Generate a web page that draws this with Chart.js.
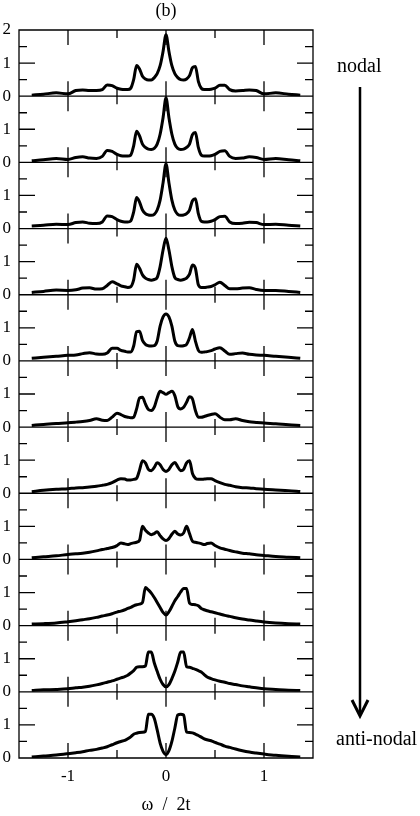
<!DOCTYPE html>
<html>
<head>
<meta charset="utf-8">
<script src="https://cdn.jsdelivr.net/npm/chart.js@4.4.0/dist/chart.umd.min.js"></script>
<style>
  html, body { margin: 0; padding: 0; background: #fff; }
</style>
</head>
<body>
<canvas id="dos" width="420" height="816"></canvas>
<script>
// energy grid (omega / 2t), shared by all panels
const omega = [-1.37,-1.25,-1.12,-1.0,-0.92,-0.85,-0.78,-0.71,-0.65,-0.6,-0.55,-0.5,-0.46,-0.42,-0.39,-0.36,-0.33,-0.3,-0.27,-0.24,-0.21,-0.18,-0.15,-0.12,-0.09,-0.06,-0.03,
  0,
  0.03,0.06,0.09,0.12,0.15,0.18,0.21,0.24,0.27,0.3,0.33,0.36,0.39,0.42,0.46,0.5,0.55,0.6,0.65,0.71,0.78,0.85,0.92,1.0,1.12,1.25,1.37]

// spectral weight per panel, nodal (top) to anti-nodal (bottom)
const panel1 = [0.03,0.06,0.10,0.07,0.17,0.19,0.17,0.17,0.2,0.34,0.32,0.24,0.21,0.2,0.2,0.24,0.5,0.93,0.82,0.6,0.52,0.49,0.49,0.56,0.68,0.92,1.35,
  1.86,
  1.35,0.92,0.68,0.56,0.5,0.49,0.52,0.62,0.86,0.9,0.45,0.24,0.2,0.2,0.21,0.24,0.33,0.33,0.2,0.16,0.17,0.19,0.17,0.07,0.1,0.06,0.03]
const panel2 = [0.05,0.08,0.12,0.09,0.15,0.17,0.13,0.12,0.18,0.36,0.33,0.24,0.2,0.19,0.19,0.22,0.5,0.94,0.8,0.55,0.45,0.4,0.39,0.42,0.55,0.85,1.35,
  1.95,
  1.35,0.85,0.55,0.42,0.39,0.4,0.45,0.55,0.84,0.9,0.45,0.22,0.19,0.19,0.2,0.24,0.33,0.35,0.18,0.12,0.13,0.17,0.15,0.09,0.12,0.08,0.05]
const panel3 = [0.08,0.1,0.13,0.12,0.18,0.2,0.16,0.15,0.2,0.38,0.36,0.27,0.22,0.2,0.2,0.23,0.5,0.94,0.8,0.56,0.45,0.41,0.4,0.43,0.56,0.86,1.38,
  1.96,
  1.38,0.86,0.56,0.43,0.4,0.41,0.45,0.56,0.84,0.9,0.45,0.22,0.2,0.2,0.22,0.27,0.36,0.37,0.2,0.15,0.16,0.19,0.18,0.12,0.13,0.1,0.08]
const panel4 = [0.07,0.1,0.14,0.13,0.15,0.2,0.21,0.17,0.18,0.28,0.39,0.33,0.27,0.24,0.22,0.24,0.45,0.92,0.8,0.6,0.5,0.46,0.44,0.46,0.52,0.85,1.35,
  1.71,
  1.35,0.85,0.52,0.46,0.44,0.46,0.5,0.62,0.9,0.8,0.3,0.22,0.22,0.23,0.25,0.3,0.38,0.28,0.18,0.18,0.2,0.21,0.16,0.13,0.13,0.1,0.07]
const panel5 = [0.08,0.11,0.14,0.17,0.18,0.22,0.25,0.21,0.2,0.24,0.38,0.38,0.32,0.29,0.27,0.27,0.45,0.88,0.9,0.62,0.5,0.46,0.45,0.46,0.6,1.05,1.33,
  1.42,
  1.33,1.05,0.6,0.46,0.45,0.46,0.5,0.7,0.95,0.6,0.32,0.26,0.27,0.28,0.31,0.36,0.4,0.3,0.2,0.22,0.24,0.2,0.18,0.17,0.14,0.11,0.08]
const panel6 = [0.05,0.08,0.11,0.13,0.15,0.17,0.2,0.25,0.21,0.2,0.3,0.42,0.38,0.32,0.3,0.28,0.3,0.55,0.88,0.9,0.7,0.53,0.5,0.6,0.88,1.08,1.04,
  0.99,
  1.04,1.08,0.95,0.62,0.55,0.6,0.75,0.92,0.85,0.5,0.3,0.3,0.32,0.35,0.38,0.4,0.3,0.22,0.22,0.25,0.2,0.16,0.14,0.12,0.1,0.07,0.05]
const panel7 = [0.05,0.09,0.12,0.14,0.16,0.17,0.19,0.21,0.24,0.27,0.32,0.4,0.44,0.43,0.4,0.4,0.42,0.45,0.7,0.98,0.92,0.72,0.68,0.78,0.92,0.86,0.72,
  0.66,
  0.72,0.86,0.93,0.8,0.68,0.72,0.92,0.98,0.6,0.45,0.42,0.42,0.43,0.44,0.44,0.38,0.32,0.27,0.24,0.2,0.17,0.16,0.14,0.12,0.1,0.08,0.05]
const panel8 = [0.05,0.08,0.11,0.15,0.17,0.19,0.22,0.26,0.3,0.33,0.36,0.42,0.5,0.47,0.45,0.48,0.5,0.52,0.58,1.0,0.88,0.8,0.75,0.78,0.84,0.72,0.62,
  0.57,
  0.63,0.76,0.85,0.77,0.74,0.8,1.0,0.78,0.55,0.52,0.5,0.48,0.45,0.48,0.5,0.42,0.35,0.31,0.27,0.23,0.19,0.17,0.14,0.12,0.09,0.07,0.05]
const panel9 = [0.05,0.06,0.08,0.12,0.15,0.18,0.21,0.25,0.29,0.32,0.36,0.41,0.44,0.48,0.52,0.55,0.6,0.63,0.65,0.7,1.15,1.08,0.98,0.85,0.7,0.55,0.4,
  0.32,
  0.42,0.58,0.75,0.88,1.02,1.12,1.12,0.68,0.64,0.63,0.6,0.52,0.48,0.45,0.42,0.39,0.35,0.31,0.28,0.24,0.2,0.17,0.14,0.11,0.08,0.06,0.05]
const panel10 = [0.04,0.06,0.07,0.09,0.12,0.14,0.17,0.21,0.25,0.29,0.33,0.38,0.42,0.46,0.5,0.57,0.64,0.74,0.76,0.76,0.78,1.2,1.2,0.88,0.62,0.38,0.22,
  0.15,
  0.22,0.4,0.62,0.9,1.2,1.2,0.76,0.74,0.71,0.68,0.64,0.6,0.52,0.45,0.4,0.36,0.32,0.29,0.25,0.22,0.18,0.15,0.12,0.09,0.07,0.05,0.04]
const panel11 = [0.03,0.06,0.09,0.13,0.16,0.19,0.23,0.26,0.3,0.34,0.4,0.46,0.5,0.53,0.58,0.64,0.72,0.75,0.77,0.78,0.8,1.32,1.32,1.2,0.85,0.45,0.2,
  0.1,
  0.22,0.5,0.9,1.3,1.32,1.3,0.78,0.77,0.76,0.72,0.68,0.63,0.58,0.55,0.52,0.47,0.42,0.36,0.32,0.27,0.22,0.18,0.15,0.12,0.08,0.05,0.03]

const panels = [panel1, panel2, panel3, panel4, panel5, panel6, panel7, panel8, panel9, panel10, panel11]

// axis ticks
const x_major = [-1, 0, 1]
const x_minor = [-0.5, 0.5]
const y_major = [1]
const y_minor = [0.5, 1.5]

const serif = "'Liberation Serif', 'DejaVu Serif', serif"

const panel_frame = {
  id: 'panel_frame',
  beforeDatasetsDraw(chart) {
    const ctx = chart.ctx
    const area = chart.chartArea
    const xs = chart.scales.x
    ctx.save()
    ctx.strokeStyle = '#000'
    ctx.lineWidth = 1.3
    ctx.beginPath()
    panels.forEach((vals, i) => {
      const ys = chart.scales['y' + i]
      const top = ys.getPixelForValue(2)
      const bottom = ys.getPixelForValue(0)
      ctx.rect(area.left, top, area.right - area.left, bottom - top)
      const tick_x = (v, len) => {
        const px = xs.getPixelForValue(v)
        ctx.moveTo(px, bottom); ctx.lineTo(px, bottom - len)
        ctx.moveTo(px, top); ctx.lineTo(px, top + len)
      }
      const tick_y = (v, len) => {
        const py = ys.getPixelForValue(v)
        ctx.moveTo(area.left, py); ctx.lineTo(area.left + len, py)
        ctx.moveTo(area.right, py); ctx.lineTo(area.right - len, py)
      }
      x_major.forEach(v => tick_x(v, 15))
      x_minor.forEach(v => tick_x(v, 8))
      y_major.forEach(v => tick_y(v, 16))
      y_minor.forEach(v => tick_y(v, 8))
    })
    ctx.stroke()
    ctx.restore()
  },
  afterDraw(chart) {
    const ctx = chart.ctx
    ctx.save()
    ctx.fillStyle = '#000'
    ctx.font = '20px ' + serif
    ctx.textBaseline = 'alphabetic'
    ctx.fillText('nodal', 337, 72)
    ctx.fillText('anti-nodal', 336, 745)
    // arrow nodal -> anti-nodal
    ctx.strokeStyle = '#000'
    ctx.lineWidth = 2.5
    ctx.beginPath()
    ctx.moveTo(360, 87)
    ctx.lineTo(360, 715)
    ctx.stroke()
    ctx.lineWidth = 3
    ctx.beginPath()
    ctx.moveTo(352, 700)
    ctx.lineTo(360, 716)
    ctx.lineTo(368, 700)
    ctx.stroke()
    ctx.restore()
  }
}

const scales = {
  x: {
    type: 'linear',
    min: -1.5,
    max: 1.5,
    ticks: {
      stepSize: 0.5,
      autoSkip: false,
      maxRotation: 0,
      padding: 8,
      color: '#000',
      font: { family: serif, size: 17 },
      callback: v => Number.isInteger(v) ? v : ''
    },
    grid: { display: false, drawTicks: false },
    border: { display: false },
    title: { display: true, text: 'ω  /  2t', color: '#000', font: { family: serif, size: 18 }, padding: 0 }
  }
}

// stacked y axes: the last one defined ends up on top, so go bottom -> top
for (let i = panels.length - 1; i >= 0; i--) {
  scales['y' + i] = {
    type: 'linear',
    position: 'left',
    stack: 'panels',
    stackWeight: 1,
    min: 0,
    max: 2,
    ticks: {
      stepSize: 1,
      autoSkip: false,
      padding: 8,
      color: '#000',
      font: { family: serif, size: 17 },
      callback: v => (v === 2 && i > 0) ? '' : v
    },
    grid: { display: false, drawTicks: false },
    border: { display: false },
    afterFit: s => { s.width = 19 }
  }
}

const datasets = panels.map((vals, i) => ({
  data: omega.map((w, k) => ({ x: w, y: vals[k] })),
  yAxisID: 'y' + i,
  borderColor: '#000',
  borderWidth: 3,
  pointRadius: 0,
  cubicInterpolationMode: 'monotone',
  fill: false
}))

new Chart(document.getElementById('dos'), {
  type: 'line',
  data: { datasets: datasets },
  options: {
    responsive: false,
    animation: false,
    layout: { padding: { left: 0, right: 107, top: 0, bottom: 0 } },
    plugins: {
      legend: { display: false },
      tooltip: { enabled: false },
      title: {
        display: true,
        text: '(b)',
        fullSize: false,
        color: '#000',
        font: { family: serif, size: 18, weight: 'normal' },
        padding: { top: 0, bottom: 8.4 }
      }
    },
    scales: scales
  },
  plugins: [panel_frame]
})
</script>
</body>
</html>
